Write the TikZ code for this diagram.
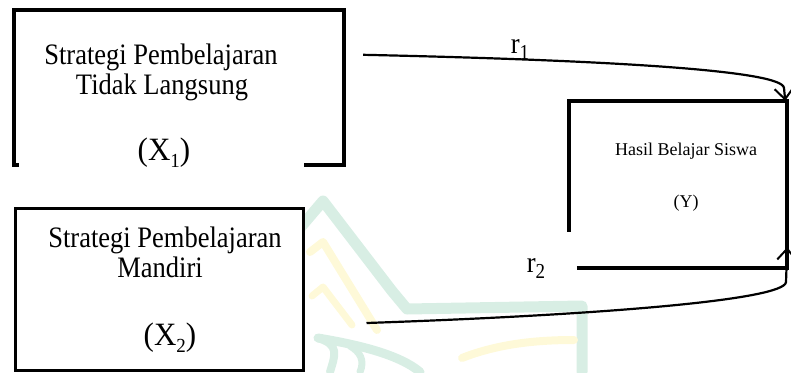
\documentclass[tikz,border=0pt]{standalone}
\usepackage{fontspec}
\usepackage{graphicx}
\setmainfont{Liberation Serif}
\usetikzlibrary{arrows.meta,calc}
\definecolor{wmgreen}{RGB}{216,238,228}
\definecolor{wmyellow}{RGB}{254,249,216}
\newcommand{\bigtxt}[1]{\scalebox{1}[1.12]{\fontsize{26.5}{30}\selectfont #1}}
\newcommand{\vartxt}[1]{\scalebox{1}[1.05]{\fontsize{31}{34}\selectfont #1}}
\newcommand{\smalltxt}{\fontsize{18}{20}\selectfont}
\newcommand{\subtxt}[1]{\raisebox{-0.22em}{\fontsize{19}{20}\selectfont #1}}
\begin{document}
\begin{tikzpicture}[x=1pt,y=-1pt,
  txt/.style={inner sep=0pt,anchor=base},
  boxarea/.style={inner sep=0pt,draw=none},
  border/.style={line width=3.5pt,line cap=rect},
  conn/.style={line width=2.2pt,-{Straight Barb[length=11pt,width=19pt,line width=2pt]}},
]
\useasboundingbox (0,0) rectangle (791,372);
% faint watermark
\begin{scope}[line cap=round,line join=round]
\draw[wmgreen,line width=11pt] (300,228) -- (323,201) -- (392,291) -- (407,309) -- (582,306) -- (582,372);
\draw[wmgreen,line width=9pt] (318,338) .. controls (360,345) and (400,355) .. (420,372);
\draw[wmgreen,line width=8pt] (330,372) .. controls (335,355) and (340,345) .. (318,338);
\draw[wmgreen,line width=7pt] (360,372) .. controls (365,360) and (360,352) .. (350,346);
\draw[wmyellow,line width=8pt] (310,252) -- (323,242) -- (377,330);
\draw[wmyellow,line width=7pt] (312,296) -- (323,287) -- (352,325);
\draw[wmyellow,line width=8pt] (462,358) .. controls (500,343) and (540,340) .. (574,340);
\end{scope}

% Box X1
\node[boxarea,minimum width=330pt,minimum height=155pt] (x1) at (179,87.5) {};
\draw[border] ($(x1.south west)+(3,0)$) -- (x1.south west) -- (x1.north west)
  -- (x1.north east) -- (x1.south east) -- ++(-38,0);
\node[txt] (x1a) at (161,64) {\bigtxt{Strategi Pembelajaran}};
\node[txt] (x1b) at (162,94) {\bigtxt{Tidak Langsung}};
\node[txt] (x1c) at (164,160) {\vartxt{(X\subtxt{1})}};

% Box X2
\node[boxarea,fill=white,draw,line width=3pt,minimum width=288pt,minimum height=162pt] (x2) at (159,289) {};
\node[txt] (x2a) at (165,247) {\bigtxt{Strategi Pembelajaran}};
\node[txt] (x2b) at (160,277) {\bigtxt{Mandiri}};
\node[txt] (x2c) at (170,345) {\vartxt{(X\subtxt{2})}};

% Box Y
\node[boxarea,minimum width=218pt,minimum height=167pt] (y) at (678,184.5) {};
\draw[border] ($(y.north west)+(0,129)$) -- (y.north west) -- (y.north east) -- (y.south east);
\draw[line width=4pt] ($(y.south west)+(8,0)$) -- (y.south east);
\node[txt] (ya) at (686,155) {\smalltxt Hasil Belajar Siswa};
\node[txt] (yb) at (686,207) {\smalltxt (Y)};

% connectors
\coordinate (r1s) at ($(x1.north east)+(19,45)$);
\coordinate (r2s) at ($(x2.east)+(62,34)$);
\draw[conn] (r1s) .. controls (600,60) and (783,70) .. (784,88) -- ($(y.north east)+(-2,0)$);
\draw[conn] (r2s) .. controls (600,315) and (785,300) .. (786,282) -- ($(y.south east)+(0,-21)$);
\node[txt] (r1) at (520,53) {\bigtxt{r\subtxt{1}}};
\node[txt] (r2) at (536,272) {\bigtxt{r\subtxt{2}}};
\end{tikzpicture}
\end{document}
